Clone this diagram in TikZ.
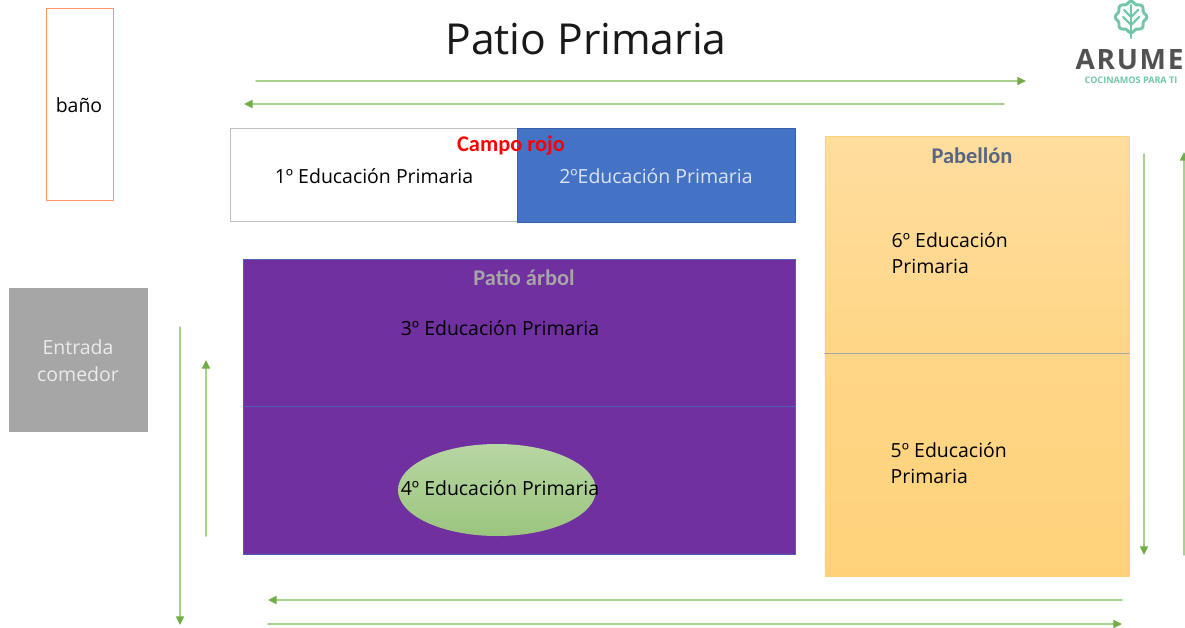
\documentclass[tikz,border=0pt]{standalone}
\usepackage{fontspec}
\setmainfont{Open Sans}
\newfontfamily\carlito{Carlito}
\newfontfamily\logofont[LetterSpace=6]{Open Sans}
\usetikzlibrary{arrows.meta}
\usetikzlibrary{shapes.geometric}
\definecolor{flecha}{HTML}{A9D18E}
\definecolor{punta}{HTML}{70AD47}
\definecolor{azul}{HTML}{4472C4}
\definecolor{morado}{HTML}{7030A0}
\definecolor{hojaverde}{HTML}{72C6AB}
\definecolor{naranjaA}{HTML}{FFDD9E}
\definecolor{naranjaB}{HTML}{FFD687}
\definecolor{naranjaC}{HTML}{FFD27A}
\begin{document}
\begin{tikzpicture}[line cap=round,line join=round,x=0.75pt,y=-0.75pt,
    zona/.style={draw, anchor=north west, inner sep=0pt},
    etiq/.style={font=\fontsize{14.6pt}{20pt}\selectfont, align=left},
    negrita/.style={font=\carlito\bfseries\fontsize{16.8pt}{19pt}\selectfont},
    flecha/.style={draw=flecha, line width=1.3pt, -{Triangle[length=6.5pt,width=6pt,color=punta]}}]
    \useasboundingbox (0,0) rectangle (1185,628);

    \node[etiq, text=black!90, font=\fontsize{32pt}{36pt}\selectfont] (titulo) at (586,39) {Patio Primaria};

    % bano
    \node[zona, draw=orange!60!red!60, fill=white, line width=1.1pt, minimum width=50.25pt, minimum height=144pt] (bano) at (45.5,7.5) {};
    \node[etiq] (banotxt) at (79,105) {baño};

    % campo rojo
    \node[zona, draw=black!25, fill=white, line width=1pt, minimum width=215.25pt, minimum height=69.75pt] (campo1) at (229.5,128) {};
    \node[zona, draw=azul!85!black, fill=azul, minimum width=208.5pt, minimum height=70.5pt] (campo2) at (516.5,128) {};
    \node[etiq] (primero) at (374,176) {1º Educación Primaria};
    \node[etiq, text=white!80!azul] (segundo) at (656,176) {2ºEducación Primaria};
    \node[negrita, text=red] (rojo) at (511,146) {Campo rojo};

    % patio arbol
    \node[zona, draw=azul!70!morado, fill=morado, minimum width=414pt, minimum height=110.25pt] (tres) at (243,259) {};
    \node[zona, draw=azul!70!morado, fill=morado, minimum width=414pt, minimum height=111pt] (cuatro) at (243,406) {};
    \node[negrita, text=black!35] (arbol) at (524,278) {Patio árbol};
    \node[etiq] (tercero) at (500,328) {3º Educación Primaria};
    \node[ellipse, top color=punta!50, bottom color=punta!70, minimum width=148.5pt, minimum height=69pt, inner sep=0pt] (elipse) at (497,490) {};
    \node[etiq] (cuarto) at (500,488) {4º Educación Primaria};

    % pabellon
    \node[zona, draw=naranjaC, top color=naranjaA, bottom color=naranjaB, minimum width=228pt, minimum height=162.75pt] (seis) at (824.5,136) {};
    \node[zona, draw=naranjaC, top color=naranjaB, bottom color=naranjaC, minimum width=228pt, minimum height=167.25pt] (cinco) at (824.5,353) {};
    \draw[black!35, line width=0.6pt] (cinco.north west) -- (cinco.north east);
    \node[negrita, text=azul!45!black!75] (pabellon) at (972,156) {Pabellón};
    \node[etiq, anchor=west] (sexto) at (887,253) {6º Educación\\Primaria};
    \node[etiq, anchor=west] (quinto) at (886,463) {5º Educación\\Primaria};

    % entrada
    \node[zona, draw=none, fill=black!35, minimum width=104.25pt, minimum height=108pt] (entrada) at (9,288) {};
    \node[etiq, text=white!92!black, align=center] (entradatxt) at (78,361) {Entrada\\comedor};

    % logo
    \node[font=\logofont\bfseries\fontsize{21pt}{21pt}\selectfont, text=black!68, anchor=west] (arume) at (1071,60) {ARUME};
    \node[font=\bfseries\fontsize{6.8pt}{7pt}\selectfont, text=hojaverde, anchor=center] (cocinamos) at (1131,80) {COCINAMOS PARA TI};
    \draw[hojaverde, line width=2.2pt] plot[domain=0:360, samples=73] ({1131+14.5*sin(\x)+1.2*cos(8*\x)*sin(\x)},{17-14.5*cos(\x)-1.2*cos(8*\x)*cos(\x)}) -- cycle;
    \draw[hojaverde, line width=1.8pt] (1131,5) -- (1131,38);
    \draw[hojaverde, line width=1.6pt] (1124,10) -- (1131,17) -- (1138,10) (1123,17) -- (1131,25) -- (1139,17);

    % flechas
    \coordinate (a1) at (256,81);   \coordinate (a2) at (1026,81);
    \coordinate (b1) at (1004,104); \coordinate (b2) at (244,104);
    \coordinate (c1) at (1144,154); \coordinate (c2) at (1144,555);
    \coordinate (d1) at (1184,555); \coordinate (d2) at (1184,152);
    \coordinate (e1) at (180,327);  \coordinate (e2) at (180,625);
    \coordinate (f1) at (206,536);  \coordinate (f2) at (206,360);
    \coordinate (g1) at (1122,600); \coordinate (g2) at (268,600);
    \coordinate (h1) at (268,624);  \coordinate (h2) at (1122,624);
    \foreach \ini/\fin in {a1/a2,b1/b2,c1/c2,d1/d2,e1/e2,f1/f2,g1/g2,h1/h2}
        \draw[flecha] (\ini) -- (\fin);
\end{tikzpicture}
\end{document}
